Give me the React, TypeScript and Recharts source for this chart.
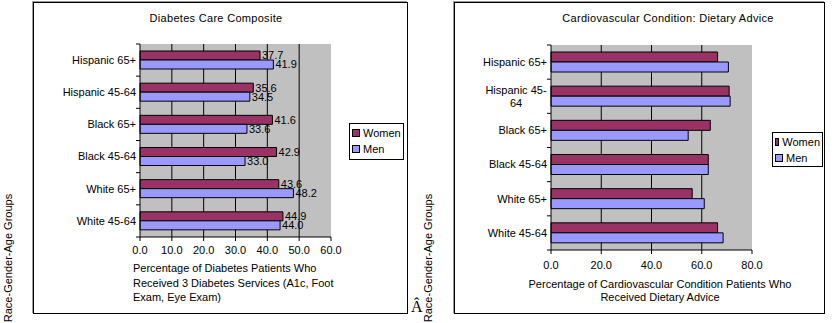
import { Bar, BarChart, CartesianGrid, LabelList, XAxis, YAxis } from "recharts";

const diabetesCategories = ["Hispanic 65+", "Hispanic 45-64", "Black 65+", "Black 45-64", "White 65+", "White 45-64"];
const diabetesWomen = [37.7, 35.6, 41.6, 42.9, 43.6, 44.9];
const diabetesMen = [41.9, 34.5, 33.6, 33.0, 48.2, 44.0];
const diabetesTicks = [0, 10, 20, 30, 40, 50, 60];

const cardioCategories = ["Hispanic 65+", "Hispanic 45-\n64", "Black 65+", "Black 45-64", "White 65+", "White 45-64"];
const cardioWomen = [66.3, 70.9, 63.4, 62.6, 56.2, 66.3];
const cardioMen = [70.6, 71.3, 54.6, 62.6, 61.0, 68.5];
const cardioTicks = [0, 20, 40, 60, 80];

const FONT = "'Liberation Sans', Arial, sans-serif";
const WOMEN = "#993366";
const MEN = "#9999ff";

function CategoryTick(props: any) {
  const { x, y, payload, index, band, count } = props;
  const axisX = x + 4;
  const lines = String(payload.value).split("\n");
  const multi = lines.length > 1;
  return (
    <g>
      <line x1={axisX - 4} x2={axisX} y1={y - band / 2} y2={y - band / 2} stroke="#000" />
      {index === count - 1 && (
        <line x1={axisX - 4} x2={axisX} y1={y + band / 2} y2={y + band / 2} stroke="#000" />
      )}
      <text
        x={multi ? x - 31 : x}
        y={y - (lines.length - 1) * 6.5}
        textAnchor={multi ? "middle" : "end"}
        fontSize={11}
        fontFamily={FONT}
        fill="#000"
      >
        {lines.map((l, i) => (
          <tspan key={i} x={multi ? x - 31 : x} dy={i === 0 ? "0.35em" : 13}>
            {l}
          </tspan>
        ))}
      </text>
    </g>
  );
}

function GroupChart(props: any) {
  const { categories, women, men, ticks, width, height, margin, barSize, labels, tickMargin } = props;
  const data = categories.map((c: string, i: number) => ({ category: c, women: women[i], men: men[i] }));
  const max = ticks[ticks.length - 1];
  const band = (height - margin.top - margin.bottom - 30) / categories.length;
  return (
    <BarChart width={width} height={height} data={data} layout="vertical" margin={margin} barGap={0}>
      <CartesianGrid
        horizontal={false}
        fill="#c0c0c0"
        fillOpacity={1}
        stroke="#000"
        verticalCoordinatesGenerator={({ offset }: any) =>
          ticks.slice(1, -1).map((t: number) => offset.left + (offset.width * t) / max)
        }
      />
      <XAxis
        type="number"
        domain={[0, max]}
        ticks={ticks}
        tickFormatter={(v: number) => v.toFixed(1)}
        tick={{ fontSize: 11, fill: "#000", fontFamily: FONT }}
        axisLine={{ stroke: "#000" }}
        tickLine={{ stroke: "#000" }}
        tickSize={4}
        tickMargin={tickMargin}
        height={30}
      />
      <YAxis
        type="category"
        dataKey="category"
        width={100}
        axisLine={{ stroke: "#000" }}
        tickLine={false}
        tickSize={0}
        tickMargin={4}
        interval={0}
        tick={<CategoryTick band={band} count={categories.length} />}
      />
      <Bar dataKey="women" fill={WOMEN} stroke="#000" strokeWidth={1} barSize={barSize} isAnimationActive={false}>
        {labels && (
          <LabelList
            dataKey="women"
            position="right"
            offset={2}
            formatter={(v: any) => Number(v).toFixed(1)}
            style={{ fontSize: 11, fill: "#000", fontFamily: FONT }}
          />
        )}
      </Bar>
      <Bar dataKey="men" fill={MEN} stroke="#000" strokeWidth={1} barSize={barSize} isAnimationActive={false}>
        {labels && (
          <LabelList
            dataKey="men"
            position="right"
            offset={2}
            formatter={(v: any) => Number(v).toFixed(1)}
            style={{ fontSize: 11, fill: "#000", fontFamily: FONT }}
          />
        )}
      </Bar>
    </BarChart>
  );
}

function LegendBox({ left, top, width, height }: any) {
  const item = (color: string, text: string) => (
    <div style={{ display: "flex", alignItems: "center", height: 16 }}>
      <span style={{ width: 6, height: 6, background: color, border: "1px solid #000", marginRight: 3 }} />
      <span>{text}</span>
    </div>
  );
  return (
    <div
      style={{
        position: "absolute",
        left,
        top,
        width,
        height,
        border: "1px solid #000",
        background: "#fff",
        boxSizing: "border-box",
        padding: "1px 2px",
        fontSize: 11,
        overflow: "hidden",
        whiteSpace: "nowrap",
      }}
    >
      {item(WOMEN, "Women")}
      {item(MEN, "Men")}
    </div>
  );
}

const frame = {
  position: "absolute" as const,
  border: "1px solid #000",
  boxShadow: "-1px -1px 0 #999",
  boxSizing: "border-box" as const,
};

const yTitle = (left: number) => (
  <div
    style={{
      position: "absolute",
      left: left - 70,
      top: 252,
      width: 140,
      textAlign: "center",
      fontSize: 11,
      transform: "rotate(-90deg)",
      whiteSpace: "nowrap",
    }}
  >
    Race-Gender-Age Groups
  </div>
);

export default function App() {
  return (
    <div style={{ position: "relative", width: 835, height: 323, overflow: "hidden", fontFamily: FONT, color: "#000", background: "#fff" }}>
      <style>{"body{margin:0}"}</style>
      <div style={{ ...frame, left: 33, top: 2, width: 375, height: 312 }} />
      <div style={{ ...frame, left: 454, top: 2, width: 371, height: 312 }} />

      <div style={{ position: "absolute", left: 0, top: 0 }}>
        <GroupChart
          categories={diabetesCategories}
          women={diabetesWomen}
          men={diabetesMen}
          ticks={diabetesTicks}
          width={407}
          height={323}
          margin={{ top: 44, right: 76, bottom: 56, left: 40 }}
          barSize={9}
          labels
          tickMargin={5}
        />
      </div>
      <div style={{ position: "absolute", left: 415, top: 0 }}>
        <GroupChart
          categories={cardioCategories}
          women={cardioWomen}
          men={cardioMen}
          ticks={cardioTicks}
          width={420}
          height={323}
          margin={{ top: 45, right: 83, bottom: 43, left: 36 }}
          barSize={10}
          labels={false}
          tickMargin={7}
        />
      </div>

      <div style={{ position: "absolute", left: 116, top: 12, width: 200, textAlign: "center", fontSize: 11, letterSpacing: 0.3 }}>
        Diabetes Care Composite
      </div>
      <div style={{ position: "absolute", left: 538, top: 12, width: 260, textAlign: "center", fontSize: 11, letterSpacing: 0.3 }}>
        Cardiovascular Condition: Dietary Advice
      </div>

      <div style={{ position: "absolute", left: 133, top: 261, fontSize: 11, lineHeight: "14.5px" }}>
        Percentage of Diabetes Patients Who
        <br />
        Received 3 Diabetes Services (A1c, Foot
        <br />
        Exam, Eye Exam)
      </div>
      <div style={{ position: "absolute", left: 520, top: 278, width: 280, textAlign: "center", fontSize: 11, lineHeight: "13px" }}>
        Percentage of Cardiovascular Condition Patients Who
        <br />
        Received Dietary Advice
      </div>

      {yTitle(8)}
      {yTitle(428)}

      <LegendBox left={349} top={123} width={55} height={37} />
      <LegendBox left={772} top={132} width={51} height={35} />

      <div style={{ position: "absolute", left: 411, top: 298, fontFamily: "serif", fontSize: 16 }}>Â</div>
    </div>
  );
}
